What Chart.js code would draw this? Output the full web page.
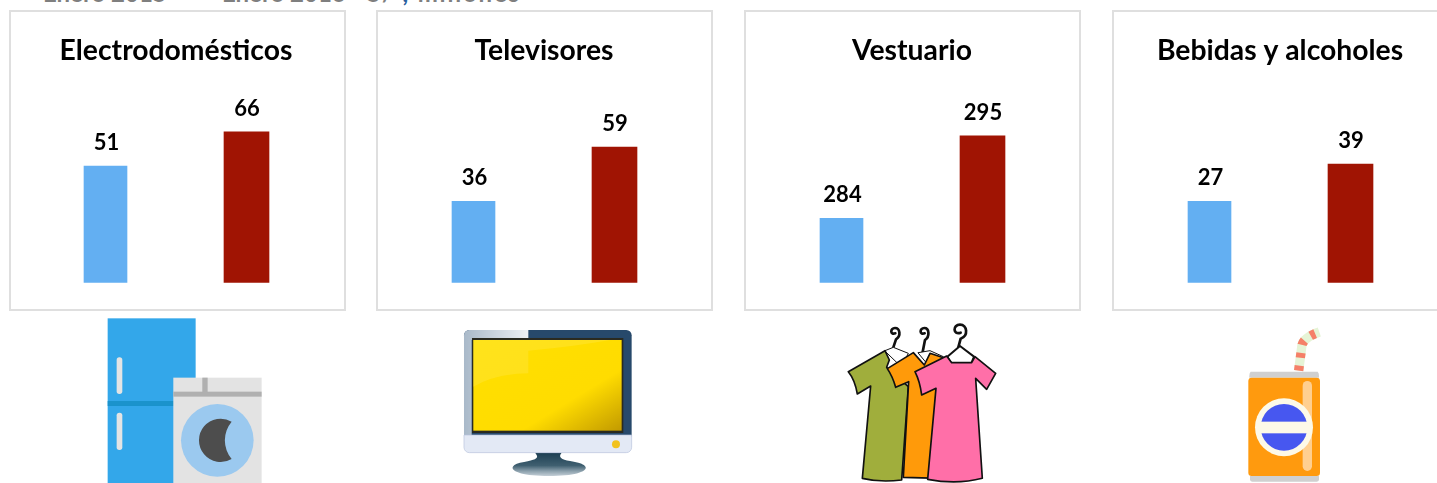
<!DOCTYPE html>
<html lang="es">
<head>
<meta charset="utf-8">
<title>Ventas por categoría</title>
<script src="https://cdn.jsdelivr.net/npm/chart.js@4.4.0/dist/chart.umd.min.js"></script>
<style>
    html, body { margin: 0; padding: 0; background: #fff; }
    body { position: relative; width: 1437px; height: 483px; overflow: hidden; font-family: Lato, sans-serif; }
    .panel { position: absolute; top: 10px; width: 337px; height: 301px; box-sizing: border-box; border: 2px solid #dfdfdf; }
    canvas { position: absolute; top: 11px; }
    .cut-text { position: absolute; top: -21px; font-size: 24px; font-weight: 700; color: #7f7f7f; line-height: 28px; white-space: nowrap; }
    .icons { position: absolute; left: 0; top: 0; filter: blur(0.5px); }
</style>
</head>
<body>
<div class="cut-text" style="left:43px">Enero 2015</div>
<div class="cut-text" style="left:222px">Enero 2016</div>
<div class="cut-text" style="left:367px;letter-spacing:1.8px">S/ <span style="color:#2a5f9e">,</span> millones</div>

<svg class="icons" width="1437" height="483" viewBox="0 0 1437 483">
    <!-- refrigerador y lavadora -->
    <g transform="translate(0 300) scale(0.3333)">
        <rect x="323" y="55" width="264" height="500" fill="#33a7ea"/>
        <rect x="323" y="303" width="200" height="15" fill="#1b93cc"/>
        <rect x="350" y="172" width="17" height="110" rx="8" fill="#e4e4e4"/>
        <rect x="350" y="338" width="17" height="112" rx="8" fill="#e4e4e4"/>
        <rect x="520" y="233" width="265" height="320" fill="#e3e3e3"/>
        <rect x="520" y="275" width="265" height="15" fill="#b0b0b0"/>
        <rect x="607" y="233" width="16" height="45" fill="#b0b0b0"/>
        <circle cx="652" cy="421" r="109" fill="#9bc9ef"/>
        <path d="M695 365 A65 65 0 1 0 695 477 A87 87 0 0 1 695 365 Z" fill="#4d4d4d"/>
    </g>
    <!-- televisor -->
    <defs>
        <linearGradient id="tvYellow" x1="0" y1="0" x2="1" y2="1">
            <stop offset="0" stop-color="#ffe000"/>
            <stop offset="0.66" stop-color="#ffdc00"/>
            <stop offset="1" stop-color="#c29a00"/>
        </linearGradient>
        <linearGradient id="tvBezel" x1="0" y1="0" x2="1" y2="0">
            <stop offset="0" stop-color="#a9b9c9"/>
            <stop offset="1" stop-color="#eef1f5"/>
        </linearGradient>
        <linearGradient id="tvBase" x1="0" y1="0" x2="0" y2="1">
            <stop offset="0" stop-color="#1d3f52"/>
            <stop offset="0.55" stop-color="#3f5f70"/>
            <stop offset="0.8" stop-color="#8ea2ae"/>
            <stop offset="1" stop-color="#c3ced6"/>
        </linearGradient>
    </defs>
    <g transform="translate(440 310) scale(0.3333)">
        <path d="M285 428 C300 445 290 450 240 458 C195 470 215 498 327 498 C440 498 460 470 415 458 C365 450 352 445 365 428 Z" fill="url(#tvBase)"/>
        <rect x="72" y="60" width="503" height="330" rx="16" fill="#27496b"/>
        <path d="M88 60 H265 V90 H95 V375 H72 V76 A16 16 0 0 1 88 60 Z" fill="url(#tvBezel)"/>
        <rect x="96" y="84" width="454" height="285" fill="#2a2a20"/>
        <rect x="100" y="90" width="445" height="272" fill="url(#tvYellow)"/>
        <path d="M100 90 H510 Q400 110 265 122 V190 Q170 190 100 230 Z" fill="#ffe94d" opacity="0.35"/>
        <path d="M72 375 H575 V412 A16 16 0 0 1 559 428 H88 A16 16 0 0 1 72 412 Z" fill="#e3e9f5" stroke="#b8c3dd" stroke-width="2"/>
        <circle cx="528" cy="403" r="12" fill="#f2c21d"/>
    </g>
    <!-- ropa -->
    <g transform="translate(830 310) scale(0.3333)" stroke="#111" stroke-linejoin="round" stroke-linecap="round">
        <g fill="none" stroke-width="8">
            <path d="M188 118 L198 88 C214 78 210 54 195 54 C180 54 180 76 196 70"/>
            <path d="M278 126 L285 90 C300 80 298 54 283 54 C268 54 268 76 284 70"/>
            <path d="M385 112 L392 86 C416 78 412 44 390 44 C368 44 368 76 392 68"/>
        </g>
        <path d="M165 122 L190 112 L235 130 L215 170 Z" fill="#fff" stroke-width="3"/>
        <path d="M55 185 L165 122 L178 150 L170 172 L235 230 L215 510 Q150 518 97 505 L122 228 L82 252 Q75 210 55 185 Z" fill="#a0ae3c" stroke-width="5"/>
        <path d="M265 128 L300 122 L340 140 L300 170 Z" fill="#fff" stroke-width="3"/>
        <path d="M172 176 L250 128 L283 165 L300 130 L345 145 L330 505 L220 502 L236 215 L197 232 Q188 200 172 176 Z" fill="#ff9a0a" stroke-width="5"/>
        <path d="M352 140 L390 108 L432 140 L424 160 H364 Z" fill="#fff" stroke-width="6"/>
        <path d="M255 185 L350 138 L365 158 L425 158 L435 140 L497 190 L470 238 L437 205 L457 505 Q380 525 293 508 L318 235 L275 255 Q270 215 255 185 Z" fill="#ff6fa8" stroke-width="5"/>
    </g>
    <!-- lata -->
    <g transform="translate(1220 310) scale(0.3333)">
        <path d="M236 182 L246 105 Q252 82 298 66" fill="none" stroke="#e6f4d6" stroke-width="28"/>
        <path d="M236 182 L246 105 Q252 82 298 66" fill="none" stroke="#f58068" stroke-width="28" stroke-dasharray="15 24"/>
        <path d="M92 185 H293 Q298 190 297 203 H88 Q87 190 92 185 Z" fill="#d0d0d0"/>
        <path d="M90 498 H297 V510 Q295 515 290 515 H97 Q92 515 90 510 Z" fill="#d0d0d0"/>
        <rect x="85" y="203" width="215" height="295" rx="10" fill="#ff9a0e"/>
        <rect x="248" y="213" width="28" height="270" rx="14" fill="#ffcf90"/>
        <circle cx="192" cy="352" r="87" fill="#fdf9e8"/>
        <circle cx="192" cy="352" r="70" fill="#4757f0"/>
        <rect x="108" y="335" width="168" height="35" fill="#fdf9e8"/>
    </g>
</svg>

<script>
// Datos
const categories = ['Electrodomésticos', 'Televisores', 'Vestuario', 'Bebidas y alcoholes'];
const periods = ['Enero 2015', 'Enero 2016'];
const enero2015 = [51, 36, 284, 27];
const enero2016 = [66, 59, 295, 39];
// Cada panel tiene su propia escala (ejes ocultos)
const axisMin = [0, 1.5, 275.4, 0.8];
const axisMax = [85.2, 84, 301.4, 63.5];
const panelLeft = [9, 376, 744, 1112];

const blue = '#63aff2';
const red = '#a01403';

// Etiquetas de valor sobre cada barra
const valueLabels = {
    id: 'valueLabels',
    afterDatasetsDraw(chart) {
        const ctx = chart.ctx;
        ctx.save();
        ctx.font = 'bold 22px Lato, sans-serif';
        ctx.fillStyle = '#000';
        ctx.textAlign = 'center';
        ctx.textBaseline = 'alphabetic';
        chart.data.datasets.forEach((ds, d) => {
            chart.getDatasetMeta(d).data.forEach((bar, i) => {
                if (ds.data[i] === null) return;
                ctx.fillText(ds.data[i], bar.x + (d === 0 ? 1 : 0.5), bar.y - 16);
            });
        });
        ctx.restore();
    }
};

categories.forEach((name, i) => {
    const panel = document.createElement('div');
    panel.className = 'panel';
    panel.style.left = panelLeft[i] + 'px';
    document.body.appendChild(panel);

    const canvas = document.createElement('canvas');
    canvas.width = 336;
    canvas.height = 299;
    canvas.style.width = '336px';
    canvas.style.height = '299px';
    canvas.style.left = (9 + i * 368) + 'px';
    document.body.appendChild(canvas);

    new Chart(canvas, {
        type: 'bar',
        data: {
            labels: periods,
            datasets: [
                { label: periods[0], data: [enero2015[i], null], backgroundColor: blue, barThickness: 43, grouped: false },
                { label: periods[1], data: [null, enero2016[i]], backgroundColor: red, barThickness: 45, grouped: false }
            ]
        },
        options: {
            responsive: false,
            animation: false,
            layout: { padding: { left: 26, right: 28, top: 0, bottom: 27.3 } },
            plugins: {
                legend: { display: false },
                tooltip: { enabled: false },
                title: {
                    display: true,
                    text: name,
                    color: '#000',
                    font: { family: 'Lato, sans-serif', size: 28.3, weight: 'bold', lineHeight: '32px' },
                    padding: { top: 24, bottom: 21 }
                }
            },
            scales: {
                x: { display: false },
                y: { display: false, min: axisMin[i], max: axisMax[i] }
            }
        },
        plugins: [valueLabels]
    });
});
</script>
</body>
</html>
